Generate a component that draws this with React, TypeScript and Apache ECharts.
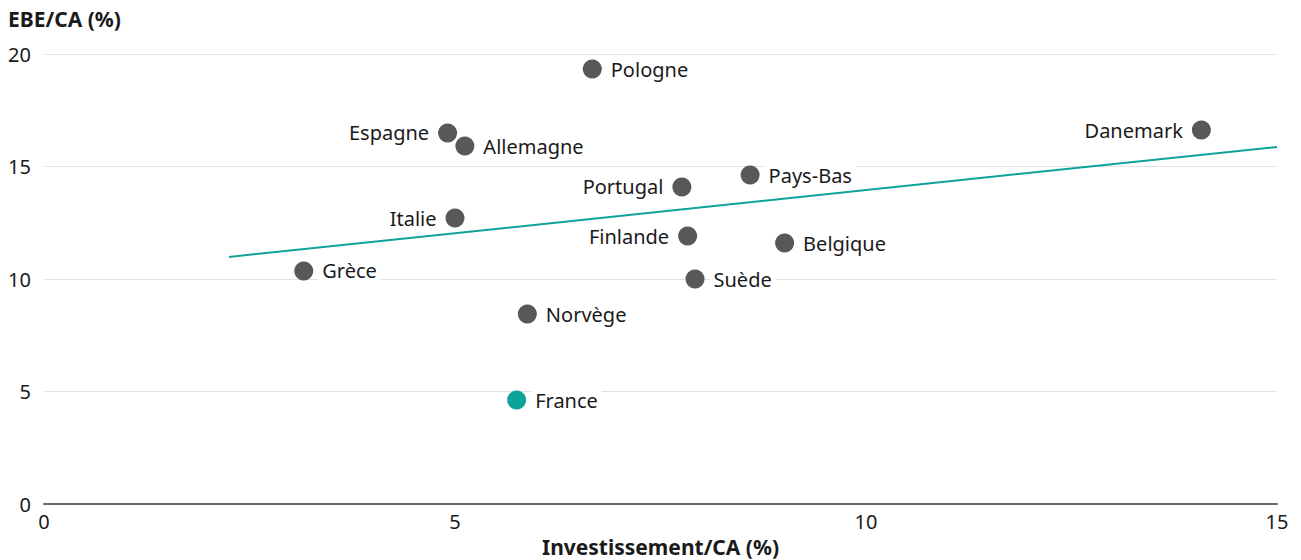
import React, { useEffect, useRef } from "react";
import * as echarts from "echarts";

const countries = ["Pologne", "Espagne", "Allemagne", "Danemark", "Pays-Bas", "Portugal", "Italie", "Finlande", "Belgique", "Grèce", "Suède", "Norvège", "France"];
const invest = [6.67, 4.91, 5.12, 14.08, 8.59, 7.76, 5.0, 7.83, 9.01, 3.16, 7.92, 5.88, 5.75];
const ebe = [19.33, 16.49, 15.91, 16.62, 14.62, 14.09, 12.71, 11.91, 11.6, 10.36, 10.0, 8.44, 4.62];
const labelSide = ["right", "left", "right", "left", "right", "left", "left", "left", "right", "right", "right", "right", "right"];
const trendX = [2.25, 15];
const trendY = [10.98, 15.87];
const highlight = "France";

const FONT = "'Noto Sans', 'Open Sans', sans-serif";
const GREY = "#58585a";
const TEAL = "#0ea39a";
const TEXT = "#1a1a1a";

export default function App() {
  const ref = useRef<HTMLDivElement>(null);
  useEffect(() => {
    if (!ref.current) return;
    document.body.style.margin = "0";
    document.body.style.overflow = "hidden";
    document.documentElement.style.overflow = "hidden";
    const chart = echarts.init(ref.current, null, { renderer: "svg", width: 1301, height: 560 });
    const data = countries.map((c, i) => ({
      name: c,
      value: [invest[i], ebe[i]],
      itemStyle: { color: c === highlight ? TEAL : GREY, opacity: 1 },
      label: { position: labelSide[i] },
    }));
    chart.setOption({
      animation: false,
      textStyle: { fontFamily: FONT },
      grid: { left: 44, width: 1233, top: 54, height: 450, containLabel: false, outerBoundsMode: "none" },
      graphic: [
        {
          type: "text",
          left: 8,
          top: 8,
          style: { text: "EBE/CA (%)", font: `bold 21px ${FONT}`, fill: TEXT },
        },
      ],
      xAxis: {
        type: "value",
        min: 0,
        max: 15,
        interval: 5,
        name: "Investissement/CA (%)",
        nameLocation: "middle",
        nameGap: 28,
        nameTextStyle: { fontFamily: FONT, fontSize: 21, lineHeight: 22, fontWeight: "bold", color: TEXT },
        axisLine: { show: true, lineStyle: { color: "#666", width: 2 } },
        axisTick: { show: false },
        axisLabel: { fontFamily: FONT, fontSize: 20, color: TEXT, margin: 7 },
        splitLine: { show: false },
      },
      yAxis: {
        type: "value",
        min: 0,
        max: 20,
        interval: 5,
        axisLine: { show: false },
        axisTick: { show: false },
        axisLabel: { fontFamily: FONT, fontSize: 20, color: TEXT, margin: 13 },
        splitLine: { show: true, lineStyle: { color: "#e2e2e2", width: 1 } },
      },
      series: [
        {
          type: "line",
          z: 1,
          data: trendX.map((x, i) => [x, trendY[i]]),
          symbol: "none",
          lineStyle: { color: TEAL, width: 2 },
          silent: true,
        },
        {
          type: "scatter",
          z: 3,
          symbolSize: 19,
          data,
          label: {
            show: true,
            formatter: "{b}",
            fontFamily: FONT,
            fontSize: 20,
            color: TEXT,
            backgroundColor: "#fff",
            padding: [2, 4],
            distance: 5,
          },
          labelLayout: { hideOverlap: false },
        },
      ],
    });
    return () => chart.dispose();
  }, []);
  return <div ref={ref} style={{ width: 1301, height: 560, overflow: "hidden" }} />;
}
